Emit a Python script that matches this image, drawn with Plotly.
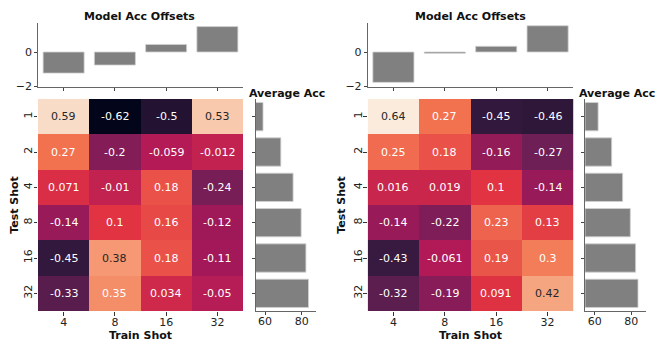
import plotly.graph_objects as go

# ---------------- data ----------------
train_shots = ["4", "8", "16", "32"]
test_shots = ["1", "2", "4", "8", "16", "32"]

left_matrix = [
    [0.59, -0.62, -0.5, 0.53],
    [0.27, -0.2, -0.059, -0.012],
    [0.071, -0.01, 0.18, -0.24],
    [-0.14, 0.1, 0.16, -0.12],
    [-0.45, 0.38, 0.18, -0.11],
    [-0.33, 0.35, 0.034, -0.05],
]
right_matrix = [
    [0.64, 0.27, -0.45, -0.46],
    [0.25, 0.18, -0.16, -0.27],
    [0.016, 0.019, 0.1, -0.14],
    [-0.14, -0.22, 0.23, 0.13],
    [-0.43, -0.061, 0.19, 0.3],
    [-0.32, -0.19, 0.091, 0.42],
]
left_offsets = [-1.23, -0.76, 0.44, 1.48]
right_offsets = [-1.77, -0.08, 0.33, 1.53]
left_avg_acc = [58.9, 68.6, 75.3, 79.7, 82.3, 83.7]
right_avg_acc = [61.9, 69.3, 75.3, 79.5, 82.4, 83.7]

# ---------------- style ----------------
OFF = 8  # page body margin
W, H = 656, 344
FONT = "DejaVu Sans"
rocket = [
    [0.0, "#03051a"], [1 / 7, "#35193e"], [2 / 7, "#701f57"], [3 / 7, "#ad1759"],
    [4 / 7, "#e13342"], [5 / 7, "#f37651"], [6 / 7, "#f6b48f"], [1.0, "#faebdd"],
]
all_vals = [v for row in left_matrix + right_matrix for v in row]
ZMIN, ZMAX = min(all_vals), max(all_vals)


def hex2rgb(h):
    h = h.lstrip("#")
    return [int(h[i:i + 2], 16) for i in (0, 2, 4)]


def cmap(v):
    t = (v - ZMIN) / (ZMAX - ZMIN)
    t = max(0.0, min(1.0, t))
    for (p0, c0), (p1, c1) in zip(rocket[:-1], rocket[1:]):
        if p0 <= t <= p1:
            f = (t - p0) / (p1 - p0)
            a, b = hex2rgb(c0), hex2rgb(c1)
            return [a[i] + (b[i] - a[i]) * f for i in range(3)]
    return hex2rgb(rocket[-1][1])


def lum(rgb):
    out = []
    for c in rgb:
        c = c / 255
        out.append(c / 12.92 if c <= 0.03928 else ((c + 0.055) / 1.055) ** 2.4)
    return 0.2126 * out[0] + 0.7152 * out[1] + 0.0722 * out[2]


def px_x(x):
    return (x - OFF) / W


def px_y(y):
    return 1 - (y - OFF) / H


panels = [
    dict(mat=left_matrix, off=left_offsets, avg=left_avg_acc,
         hx=(38, 243), sx=(255.7, 316), t1=139, t2=246.7),
    dict(mat=right_matrix, off=right_offsets, avg=right_avg_acc,
         hx=(367.7, 573.3), sx=(585.3, 645.5), t1=470, t2=576.7),
]
HM_Y = (99, 311)
TOP_Y = (23, 87)

fig = go.Figure()
layout = dict(
    width=W, height=H, margin=dict(l=0, r=0, t=0, b=0),
    paper_bgcolor="white", plot_bgcolor="white",
    font=dict(family=FONT, size=11, color="#222"),
    showlegend=False, template="none",
)
annotations = []
SPINE = "#666"

for p, pan in enumerate(panels):
    i_hm, i_top, i_side = 3 * p + 1, 3 * p + 2, 3 * p + 3
    sfx = lambda i: "" if i == 1 else str(i)

    # heatmap
    fig.add_trace(go.Heatmap(
        z=pan["mat"], x=train_shots, y=test_shots, colorscale=rocket,
        zmin=ZMIN, zmax=ZMAX, showscale=False,
        xaxis="x" + sfx(i_hm), yaxis="y" + sfx(i_hm), hoverinfo="skip"))
    for r, row in enumerate(pan["mat"]):
        for c, v in enumerate(row):
            col = "#262626" if lum(cmap(v)) > 0.408 else "white"
            annotations.append(dict(
                x=c, y=r, xref="x" + sfx(i_hm), yref="y" + sfx(i_hm),
                text=f"{v:.2g}", showarrow=False, font=dict(size=11, color=col, family=FONT)))
    layout["xaxis" + sfx(i_hm)] = dict(
        domain=[px_x(pan["hx"][0]), px_x(pan["hx"][1])], anchor="y" + sfx(i_hm),
        type="category", range=[-0.5, 3.5], showgrid=False, zeroline=False, showline=False,
        ticks="outside", ticklen=3.5, tickwidth=0.8, tickcolor="#333",
        ticklabelstandoff=-3,
        tickfont=dict(size=11, color="#222"), automargin=False,
        title=dict(text="<b>Train Shot</b>", font=dict(size=11, color="#111"), standoff=0))
    layout["yaxis" + sfx(i_hm)] = dict(
        domain=[px_y(HM_Y[1]), px_y(HM_Y[0])], anchor="x" + sfx(i_hm),
        type="category", range=[5.5, -0.5], showgrid=False, zeroline=False, showline=False,
        ticks="outside", ticklen=3.5, tickwidth=0.8, tickcolor="#333", tickangle=-90,
        ticklabelstandoff=-3,
        tickfont=dict(size=11, color="#222"), automargin=False,
        title=dict(text="<b>Test Shot</b>", font=dict(size=11, color="#111"), standoff=3))

    # top bar chart
    fig.add_trace(go.Bar(
        x=train_shots, y=pan["off"], width=0.8, marker=dict(color="#808080",
        line=dict(color="#d0d0d0", width=0.8)),
        xaxis="x" + sfx(i_top), yaxis="y" + sfx(i_top), hoverinfo="skip"))
    layout["xaxis" + sfx(i_top)] = dict(
        domain=[px_x(pan["hx"][0]), px_x(pan["hx"][1])], anchor="y" + sfx(i_top),
        type="category", range=[-0.5, 3.5], showgrid=False, zeroline=False,
        showline=True, linecolor=SPINE, linewidth=0.8, showticklabels=False,
        ticks="outside", ticklen=3, tickwidth=0.8, tickcolor="#444", automargin=False)
    layout["yaxis" + sfx(i_top)] = dict(
        domain=[px_y(TOP_Y[1]), px_y(TOP_Y[0])], anchor="x" + sfx(i_top),
        range=[-2.04, 1.69], tickvals=[-2, 0], showgrid=False, zeroline=False,
        showline=True, linecolor=SPINE, linewidth=0.8,
        ticks="outside", ticklen=3, tickwidth=0.8, tickcolor="#444",
        tickfont=dict(size=11, color="#222"), automargin=False)
    annotations.append(dict(
        x=px_x(pan["t1"]), y=px_y(16), xref="paper", yref="paper",
        text="<b>Model Acc Offsets</b>", showarrow=False,
        font=dict(size=11, color="#111", family=FONT), xanchor="center", yanchor="middle"))

    # side bar chart
    fig.add_trace(go.Bar(
        y=test_shots, x=pan["avg"], orientation="h", width=0.8,
        marker=dict(color="#808080", line=dict(color="#d0d0d0", width=0.8)),
        xaxis="x" + sfx(i_side), yaxis="y" + sfx(i_side), hoverinfo="skip"))
    layout["xaxis" + sfx(i_side)] = dict(
        domain=[px_x(pan["sx"][0]), px_x(pan["sx"][1])], anchor="y" + sfx(i_side),
        range=[54.9, 87.8], tickvals=[60, 80], showgrid=False, zeroline=False,
        showline=True, linecolor=SPINE, linewidth=0.8,
        ticks="outside", ticklen=3, tickwidth=0.8, tickcolor="#444",
        ticklabelstandoff=-3,
        tickfont=dict(size=11, color="#222"), automargin=False)
    layout["yaxis" + sfx(i_side)] = dict(
        domain=[px_y(HM_Y[1]), px_y(HM_Y[0])], anchor="x" + sfx(i_side),
        type="category", range=[5.5, -0.5], showgrid=False, zeroline=False,
        showline=True, linecolor=SPINE, linewidth=0.8, showticklabels=False,
        ticks="outside", ticklen=3, tickwidth=0.8, tickcolor="#444", automargin=False)
    annotations.append(dict(
        x=px_x(pan["t2"]), y=px_y(93), xref="paper", yref="paper",
        text="<b>Average Acc</b>", showarrow=False,
        font=dict(size=11, color="#111", family=FONT), xanchor="left", yanchor="middle"))

layout["annotations"] = annotations
fig.update_layout(**layout)
fig.write_html("out.html")
